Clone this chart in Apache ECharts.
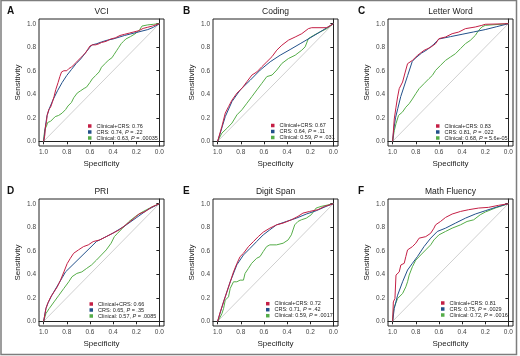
<!DOCTYPE html>
<html>
<head>
<meta charset="utf-8">
<script src="https://cdn.jsdelivr.net/npm/echarts@6/dist/echarts.min.js"></script>
<style>
  html, body { margin: 0; padding: 0; background: #fff; }
  #chart { width: 520px; height: 356px; }
</style>
</head>
<body>
<div id="chart"></div>
<script>
// [specificity, sensitivity] points
const vciCombined = [[1,0],[0.99,0.05],[0.985,0.12],[0.975,0.17],[0.97,0.22],[0.955,0.27],[0.94,0.29],[0.925,0.33],[0.91,0.38],[0.895,0.44],[0.875,0.5],[0.86,0.55],[0.845,0.59],[0.825,0.6],[0.8,0.6],[0.78,0.62],[0.76,0.63],[0.74,0.65],[0.72,0.67],[0.7,0.69],[0.68,0.71],[0.66,0.73],[0.64,0.75],[0.62,0.78],[0.6,0.81],[0.58,0.82],[0.55,0.82],[0.52,0.83],[0.5,0.84],[0.46,0.85],[0.42,0.87],[0.38,0.88],[0.34,0.9],[0.3,0.91],[0.26,0.92],[0.22,0.93],[0.18,0.94],[0.14,0.96],[0.1,0.97],[0.06,0.98],[0,1]]
const vciCrs = [[1,0],[0.99,0.08],[0.98,0.16],[0.97,0.22],[0.95,0.28],[0.92,0.35],[0.88,0.43],[0.84,0.5],[0.8,0.56],[0.76,0.61],[0.72,0.66],[0.68,0.7],[0.64,0.75],[0.6,0.8],[0.58,0.82],[0.54,0.83],[0.5,0.845],[0.45,0.86],[0.4,0.87],[0.3,0.9],[0.2,0.925],[0.1,0.95],[0.05,0.97],[0,1]]
const vciClinical = [[1,0],[0.995,0.06],[0.99,0.1],[0.975,0.13],[0.965,0.16],[0.94,0.17],[0.92,0.19],[0.9,0.21],[0.87,0.22],[0.84,0.24],[0.81,0.27],[0.79,0.3],[0.76,0.33],[0.74,0.37],[0.71,0.41],[0.68,0.43],[0.65,0.45],[0.63,0.46],[0.6,0.5],[0.58,0.53],[0.55,0.56],[0.52,0.59],[0.5,0.63],[0.47,0.66],[0.44,0.69],[0.41,0.71],[0.39,0.74],[0.37,0.77],[0.35,0.8],[0.33,0.83],[0.31,0.85],[0.29,0.87],[0.25,0.89],[0.2,0.92],[0.17,0.95],[0.15,0.98],[0.1,0.99],[0.05,0.995],[0,1]]

const codingCombined = [[1,0],[0.963,0.127],[0.934,0.24],[0.905,0.296],[0.876,0.35],[0.833,0.41],[0.79,0.45],[0.747,0.507],[0.704,0.563],[0.661,0.59],[0.618,0.634],[0.575,0.676],[0.53,0.72],[0.489,0.775],[0.445,0.817],[0.388,0.86],[0.33,0.887],[0.273,0.915],[0.216,0.958],[0.187,0.966],[0.057,0.966],[0,1]]
const codingCrs = [[1,0],[0.977,0.07],[0.934,0.21],[0.876,0.338],[0.805,0.437],[0.718,0.52],[0.632,0.606],[0.546,0.676],[0.46,0.732],[0.374,0.78],[0.287,0.83],[0.2,0.88],[0.115,0.93],[0,1]]
const codingClinical = [[1,0],[0.963,0.07],[0.92,0.11],[0.876,0.155],[0.833,0.225],[0.79,0.268],[0.747,0.324],[0.704,0.38],[0.661,0.437],[0.618,0.493],[0.575,0.55],[0.53,0.563],[0.489,0.606],[0.445,0.662],[0.388,0.704],[0.33,0.732],[0.273,0.775],[0.244,0.803],[0.216,0.873],[0.172,0.9],[0.115,0.93],[0.057,0.958],[0,1]]

const letterCombined = [[1,0],[0.986,0.19],[0.971,0.29],[0.957,0.377],[0.943,0.448],[0.914,0.504],[0.891,0.589],[0.871,0.66],[0.829,0.688],[0.786,0.73],[0.729,0.773],[0.671,0.8],[0.629,0.83],[0.6,0.873],[0.543,0.887],[0.486,0.915],[0.429,0.929],[0.371,0.958],[0.286,0.972],[0.229,0.986],[0.2,0.995],[0,1]]
const letterCrs = [[1,0],[0.99,0.1],[0.975,0.2],[0.955,0.28],[0.93,0.38],[0.9,0.47],[0.87,0.56],[0.83,0.68],[0.8,0.71],[0.75,0.75],[0.7,0.78],[0.65,0.82],[0.6,0.87],[0.5,0.89],[0.4,0.91],[0.3,0.93],[0.2,0.95],[0.1,0.975],[0,1]]
const letterClinical = [[1,0],[0.986,0.09],[0.971,0.15],[0.949,0.22],[0.914,0.25],[0.886,0.29],[0.857,0.32],[0.829,0.36],[0.8,0.405],[0.771,0.448],[0.729,0.49],[0.686,0.533],[0.657,0.56],[0.629,0.603],[0.586,0.646],[0.543,0.688],[0.5,0.717],[0.457,0.745],[0.414,0.788],[0.371,0.83],[0.329,0.858],[0.286,0.9],[0.257,0.943],[0.229,0.972],[0.2,0.986],[0,1]]

const priCombined = [[1,0],[0.98,0.108],[0.966,0.15],[0.938,0.208],[0.91,0.25],[0.882,0.293],[0.854,0.35],[0.825,0.42],[0.797,0.49],[0.769,0.536],[0.741,0.578],[0.699,0.607],[0.656,0.635],[0.614,0.65],[0.572,0.678],[0.515,0.692],[0.459,0.72],[0.403,0.749],[0.346,0.778],[0.29,0.82],[0.234,0.863],[0.177,0.912],[0.121,0.934],[0.065,0.972],[0,1]]
const priCrs = [[1,0],[0.98,0.11],[0.96,0.16],[0.93,0.22],[0.9,0.27],[0.87,0.32],[0.84,0.37],[0.811,0.42],[0.544,0.678],[0.46,0.72],[0.4,0.75],[0.3,0.81],[0.2,0.88],[0.1,0.95],[0,1]]
const priClinical = [[1,0],[0.98,0.066],[0.952,0.108],[0.91,0.165],[0.868,0.222],[0.825,0.28],[0.783,0.336],[0.755,0.379],[0.713,0.407],[0.67,0.42],[0.628,0.45],[0.586,0.479],[0.544,0.52],[0.501,0.564],[0.459,0.607],[0.417,0.664],[0.389,0.72],[0.361,0.749],[0.318,0.792],[0.262,0.849],[0.206,0.892],[0.149,0.929],[0.065,0.972],[0,1]]

const digitCombined = [[1,0],[0.977,0.08],[0.949,0.165],[0.92,0.25],[0.891,0.336],[0.863,0.42],[0.834,0.49],[0.806,0.55],[0.777,0.578],[0.734,0.635],[0.691,0.678],[0.649,0.72],[0.606,0.758],[0.549,0.792],[0.491,0.82],[0.434,0.835],[0.363,0.863],[0.306,0.892],[0.263,0.92],[0.206,0.934],[0.134,0.949],[0.077,0.977],[0,1]]
const digitCrs = [[1,0],[0.949,0.165],[0.891,0.336],[0.834,0.48],[0.777,0.564],[0.72,0.62],[0.663,0.678],[0.606,0.735],[0.549,0.778],[0.491,0.82],[0.406,0.849],[0.32,0.877],[0.234,0.912],[0.149,0.94],[0.063,0.977],[0,1]]
const digitClinical = [[1,0],[0.977,0.037],[0.963,0.065],[0.949,0.108],[0.934,0.18],[0.906,0.208],[0.891,0.28],[0.863,0.336],[0.834,0.336],[0.806,0.35],[0.777,0.35],[0.763,0.407],[0.734,0.45],[0.706,0.493],[0.663,0.536],[0.634,0.55],[0.606,0.593],[0.577,0.635],[0.549,0.65],[0.491,0.65],[0.434,0.664],[0.391,0.692],[0.363,0.735],[0.334,0.82],[0.306,0.849],[0.277,0.863],[0.234,0.877],[0.191,0.906],[0.149,0.963],[0.106,0.977],[0.063,0.986],[0,1]]

const mathCombined = [[1,0],[0.994,0.165],[0.98,0.194],[0.971,0.393],[0.943,0.42],[0.929,0.479],[0.9,0.493],[0.886,0.55],[0.871,0.607],[0.829,0.635],[0.8,0.664],[0.771,0.707],[0.714,0.72],[0.671,0.749],[0.643,0.792],[0.629,0.82],[0.586,0.849],[0.543,0.883],[0.486,0.912],[0.414,0.934],[0.343,0.949],[0.257,0.963],[0.171,0.969],[0.086,0.986],[0,1]]
const mathCrs = [[1,0],[0.986,0.108],[0.957,0.222],[0.914,0.336],[0.871,0.436],[0.829,0.493],[0.786,0.55],[0.729,0.635],[0.671,0.707],[0.614,0.764],[0.543,0.792],[0.457,0.835],[0.371,0.877],[0.286,0.912],[0.2,0.94],[0.1,0.972],[0,1]]
const mathClinical = [[1,0],[0.991,0.108],[0.977,0.12],[0.957,0.194],[0.914,0.236],[0.886,0.293],[0.871,0.336],[0.857,0.393],[0.829,0.464],[0.8,0.52],[0.757,0.564],[0.714,0.607],[0.671,0.65],[0.643,0.692],[0.6,0.735],[0.543,0.764],[0.486,0.792],[0.414,0.82],[0.357,0.849],[0.3,0.863],[0.243,0.906],[0.2,0.929],[0.114,0.963],[0,1]]

const diagonal = [[1,0],[0,1]]

const panelLetters = ['A', 'B', 'C', 'D', 'E', 'F']
const panelTitles = ['VCI', 'Coding', 'Letter Word', 'PRI', 'Digit Span', 'Math Fluency']
const combinedAuc = ['0.76', '0.67', '0.83', '0.66', '0.72', '0.81']
const crsAuc = ['0.74', '0.64', '0.81', '0.65', '0.71', '0.75']
const crsP = ['.22', '.11', '.022', '.35', '.42', '.0029']
const clinicalAuc = ['0.63', '0.59', '0.68', '0.57', '0.59', '0.72']
const clinicalP = ['.00035', '.031', '5.6e-05', '.0085', '.0017', '.0016']
const tickValues = [0, 0.2, 0.4, 0.6, 0.8, 1.0]

const combinedCurves = [vciCombined, codingCombined, letterCombined, priCombined, digitCombined, mathCombined]
const crsCurves = [vciCrs, codingCrs, letterCrs, priCrs, digitCrs, mathCrs]
const clinicalCurves = [vciClinical, codingClinical, letterClinical, priClinical, digitClinical, mathClinical]

const FONT = "'Liberation Sans', Arial, Helvetica, sans-serif"
const NARROW = "'Liberation Sans Narrow', 'Arial Narrow', 'Liberation Sans', sans-serif"
const COLORS = {
  combined: '#c41f45',
  crs: '#22508a',
  clinical: '#55ad48',
  diagonal: '#cfcfcf',
  axis: '#222',
  label: '#444',
}

// plot boxes: [left, top, width, height]
const boxes = [
  [39, 19, 125, 127], [213, 19, 125, 127], [388, 19, 125, 127],
  [39, 199, 125, 127], [213, 199, 125, 127], [388, 199, 125, 127],
]
// legend anchor [left, top] per panel
const legendPos = [[88, 123], [271, 122.5], [436, 123], [89.5, 301], [266, 300.7], [441, 300]]

const grid = [], xAxis = [], yAxis = [], series = [], legend = [], graphic = []

boxes.forEach(([left, top, width, height], i) => {
  grid.push({ left, top, width, height, show: true, borderColor: COLORS.axis, borderWidth: 1, backgroundColor: 'transparent' })

  const axisCommon = {
    gridIndex: i,
    type: 'value',
    min: -0.04,
    max: 1.04,
    splitLine: { show: false },
    axisLine: { show: true, lineStyle: { color: COLORS.axis, width: 1 } },
    axisTick: { show: true, inside: false, length: 3, customValues: tickValues, lineStyle: { color: COLORS.axis } },
    axisLabel: {
      customValues: tickValues,
      formatter: v => v.toFixed(1),
      fontFamily: FONT, fontSize: 6.5, color: COLORS.label, margin: 3,
    },
    nameLocation: 'middle',
    nameTextStyle: { fontFamily: NARROW, fontSize: 8, color: COLORS.axis },
  }
  xAxis.push({ ...axisCommon, inverse: true, name: 'Specificity', nameGap: 14 })
  yAxis.push({ ...axisCommon, name: 'Sensitivity', nameGap: 17 })

  const names = [
    `Clinical+CRS: ${combinedAuc[i]}`,
    `CRS: ${crsAuc[i]}, P = ${crsP[i]}`,
    `Clinical: ${clinicalAuc[i]}, P = ${clinicalP[i]}`,
  ]
  const line = (name, data, color) => ({
    name, type: 'line', xAxisIndex: i, yAxisIndex: i, data,
    symbol: 'none', silent: true, animation: false,
    lineStyle: { color, width: 1 }, itemStyle: { color },
  })
  series.push(line('', diagonal, COLORS.diagonal))
  series.push(line(names[2], clinicalCurves[i], COLORS.clinical))
  series.push(line(names[1], crsCurves[i], COLORS.crs))
  series.push(line(names[0], combinedCurves[i], COLORS.combined))

  legend.push({
    data: names.map(n => ({ name: n, icon: 'rect' })),
    orient: 'vertical',
    left: legendPos[i][0], top: legendPos[i][1],
    itemWidth: 3.5, itemHeight: 3.5, itemGap: 0, padding: 0,
    selectedMode: false,
    formatter: n => n.replace('P =', '{i|P} ='),
    textStyle: {
      fontFamily: FONT, fontSize: 5.5, lineHeight: 5.4, color: '#222',
      rich: { i: { fontFamily: FONT, fontSize: 5.5, lineHeight: 5.4, fontStyle: 'italic', color: '#222' } },
    },
  })

  // panel title and letter
  graphic.push({
    type: 'text', x: left + width / 2, y: top - 7,
    style: { text: panelTitles[i], align: 'center', verticalAlign: 'middle', font: `8.5px ${FONT}`, fill: '#222' },
  })
  graphic.push({
    type: 'text', x: i % 3 === 0 ? 7 : left - 30, y: top - 8,
    style: { text: panelLetters[i], align: 'left', verticalAlign: 'middle', font: `bold 10px ${FONT}`, fill: '#111' },
  })
})

// outer frame
graphic.push({
  type: 'rect', shape: { x: 1, y: 0.5, width: 515.5, height: 354 },
  style: { fill: 'none', stroke: '#7d7d7d', lineWidth: 1.5 }, silent: true,
})

const chart = echarts.init(document.getElementById('chart'), null, { renderer: 'canvas' })
chart.setOption({
  animation: false,
  grid, xAxis, yAxis, series, legend, graphic,
})
</script>
</body>
</html>
